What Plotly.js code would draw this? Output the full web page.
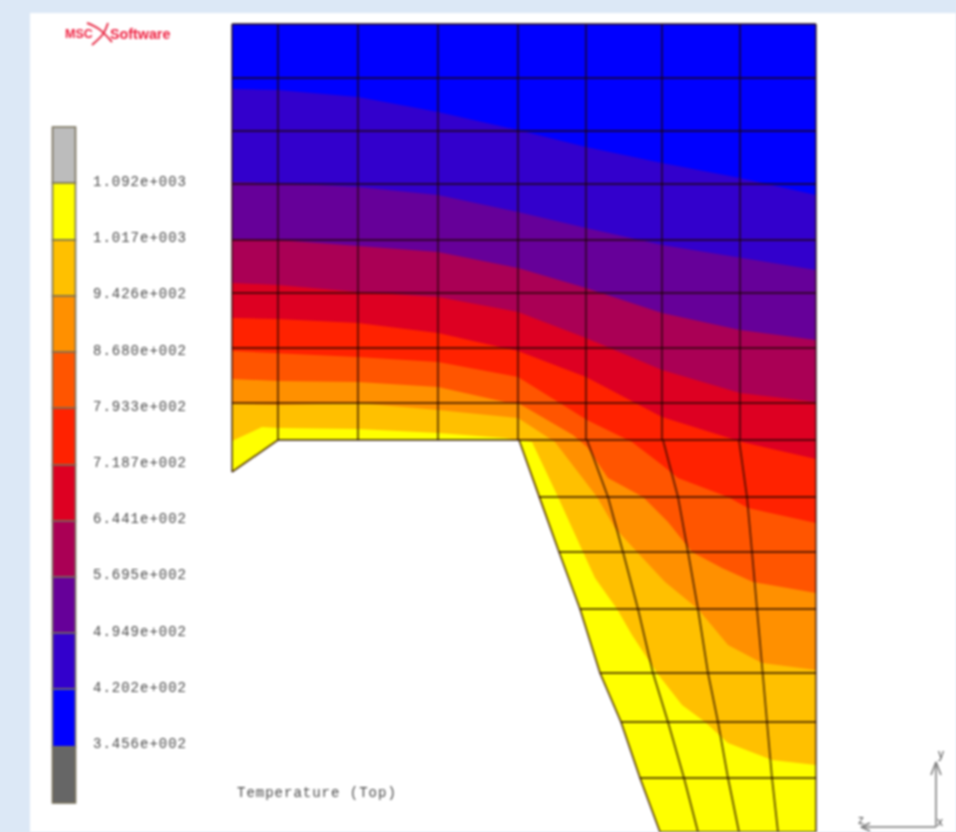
<!DOCTYPE html>
<html><head><meta charset="utf-8">
<script src="https://cdn.plot.ly/plotly-3.0.1.min.js"></script>
<style>html,body{margin:0;padding:0;background:#dce8f6;overflow:hidden}#chart{width:956px;height:832px;filter:blur(0.8px)}
#chart text[style*="Liberation Mono"]{letter-spacing:1px}</style>
</head><body><div id="chart"></div>
<script>
// Legend
const legendLabels=["1.092e+003","1.017e+003","9.426e+002","8.680e+002","7.933e+002","7.187e+002","6.441e+002","5.695e+002","4.949e+002","4.202e+002","3.456e+002"];
const legendEdges=[127,183,240,296,352,408,465,521,577,633,689,747,803];
const legendColors=["#bcbcbc","#ffff00","#ffc000","#ff9000","#ff5500","#ff2200","#dd0022","#aa0055","#660099","#3300cc","#0000ff","#666666"];
// Mesh (picture units)
const meshTopX=[232,278,358,438,518,586,662,740,816];
const meshTopY=[24,78,131,184,240,293,348,403,440];
const meshLowY=[440,497,552,609,673,722,778,832];
const slantX=[519,539,559,580,600,621,640,660];
const lower1X=[587,608,623,638,653,668,684,698];
const lower2X=[663,678,688,698,708,718,728,739];
const lower3X=[739,747,752,757,762,767,772,778];
const rightX=[816,816,816,816,816,816,816,816];
// Isotherm lines, cold to hot
const iso1X=[232,278,358,438,518,586,662,740,816];
const iso1Y=[89,90,97,112,130,147,163,178,195];
const iso2X=[232,278,358,438,518,586,662,740,816];
const iso2Y=[182,183,187,195,212,228,245,258,270];
const iso3X=[232,278,358,438,518,586,662,740,816];
const iso3Y=[239,240,246,252,268,288,313,330,340];
const iso4X=[232,278,358,438,518,586,662,740,816];
const iso4Y=[283,285,292,297,312,338,370,393,402];
const iso5X=[232,278,358,438,518,586,662,742,816];
const iso5Y=[318,319,323,333,351,377,417,442,459];
const iso6X=[232,278,358,438,518,587,632,662,678,728,748,816];
const iso6Y=[351,353,357,362,377,420,442,465,478,497,508,523];
const iso7X=[232,278,358,438,505,518,573,587,608,643,668,692,722,753,816];
const iso7Y=[379,381,382,387,402,403,435,447,478,497,522,552,568,582,593];
const iso8X=[232,278,358,438,518,555,597,615,637,665,698,728,762,816];
const iso8Y=[404,405,403,410,418,442,497,528,552,582,609,645,663,670];
const iso9X=[232,262,278,358,438,505,532,558,583,595,617,632,657,682,705,728,772,816];
const iso9Y=[441,427,428,429,433,438,442,497,552,578,609,635,673,705,722,743,760,765];
const bandColors=["#0000ff","#3300cc","#660099","#aa0055","#dd0022","#ff2200","#ff5500","#ff9000","#ffc000","#ffff00"];
const isoX=[iso1X,iso2X,iso3X,iso4X,iso5X,iso6X,iso7X,iso8X,iso9X];
const isoY=[iso1Y,iso2Y,iso3Y,iso4Y,iso5Y,iso6Y,iso7Y,iso8Y,iso9Y];
// Outline pieces
const flangeX=[278,232];
const flangeY=[440,472];

const slantUpX=slantX.slice().reverse(), slantUpY=meshLowY.slice().reverse();
const traces=[];
function band(xs,ys,color){
  traces.push({type:'scatter',mode:'lines',x:xs,y:ys,fill:'toself',fillcolor:color,line:{width:0,color:color},hoverinfo:'skip',showlegend:false});
}
// whole part first, then each hotter region on top
const lowerEdgeX=[816,816].concat(slantUpX,[278],flangeX.slice(1));
const lowerEdgeY=[440,832].concat(slantUpY,[440],flangeY.slice(1));
band([232,816].concat(lowerEdgeX,[232]),[24,24].concat(lowerEdgeY,[24]),bandColors[0]);
isoX.forEach((xs,i)=>{
  band(xs.concat(lowerEdgeX.slice(1),[xs[0]]),isoY[i].concat(lowerEdgeY.slice(1),[isoY[i][0]]),bandColors[i+1]);
});
// mesh lines
const meshLine={color:'rgba(30,5,0,0.68)',width:1.8};
function mesh(xs,ys){traces.push({type:'scatter',mode:'lines',x:xs,y:ys,line:meshLine,hoverinfo:'skip',showlegend:false});}
meshTopY.forEach((y,i)=>mesh([i===8?278:232,816],[y,y]));
meshLowY.forEach((y,i)=>{if(i>0)mesh([slantX[i],rightX[i]],[y,y]);});
mesh([232,232],[24,472]);
mesh(flangeX,flangeY);
meshTopX.slice(1,8).forEach(x=>mesh([x,x],[24,440]));
mesh([816,816],[24,832]);
mesh(slantX,meshLowY);mesh(lower1X,meshLowY);mesh(lower2X,meshLowY);mesh(lower3X,meshLowY);
// legend bar
traces.push({type:'bar',x:legendColors.map(()=>64),base:legendEdges.slice(0,-1),y:legendEdges.slice(1).map((e,i)=>e-legendEdges[i]),width:23,
  marker:{color:legendColors,line:{color:'#77705a',width:1.6}},hoverinfo:'skip',showlegend:false});
// legend labels: each sits just above its band edge
traces.push({type:'scatter',mode:'text',x:legendLabels.map(()=>93),y:[182,238,294,351,407,463,519,575,632,688,744],text:legendLabels,textposition:'middle right',
  textfont:{family:'"Liberation Mono",monospace',size:14,color:'#4a4a4a'},hoverinfo:'skip',showlegend:false});
traces.push({type:'scatter',mode:'text',x:[237],y:[793],text:['Temperature (Top)'],textposition:'middle right',
  textfont:{family:'"Liberation Mono",monospace',size:14,color:'#4a4a4a'},hoverinfo:'skip',showlegend:false});
// logo
traces.push({type:'scatter',mode:'text',x:[65],y:[35],text:['<b>MSC</b>'],textposition:'middle right',
  textfont:{family:'"Liberation Sans",Arial,sans-serif',size:12.5,color:'#ee2040'},hoverinfo:'skip',showlegend:false});
traces.push({type:'scatter',mode:'text',x:[110],y:[35],text:['<b>Software</b>'],textposition:'middle right',
  textfont:{family:'"Liberation Sans",Arial,sans-serif',size:14.3,color:'#ee2040'},hoverinfo:'skip',showlegend:false});
const swooshX=[87,99,112,null,108,103,92];
const swooshY=[23,29,42,null,23,34,45];
traces.push({type:'scatter',mode:'lines',x:swooshX,y:swooshY,line:{color:'#e8304a',width:2,shape:'spline'},connectgaps:false,hoverinfo:'skip',showlegend:false});
// triad
const triadX=[936,936,null,936,861,null,931,936,941,null,870,861,870];
const triadY=[827,762,null,827,827,null,775,762,775,null,823,827,831];
traces.push({type:'scatter',mode:'lines',x:triadX,y:triadY,line:{color:'#777',width:1.5},connectgaps:false,hoverinfo:'skip',showlegend:false});
traces.push({type:'scatter',mode:'text',x:[941,861,940],y:[755,821,823],text:['y','z','x'],textposition:'middle center',
  textfont:{family:'"Liberation Sans",sans-serif',size:12,color:'#555'},hoverinfo:'skip',showlegend:false});

const hidden={visible:false,fixedrange:true};
Plotly.newPlot('chart',traces,{
  width:956,height:832,margin:{l:30,r:0,t:13,b:0,pad:0},
  paper_bgcolor:'#dce8f6',plot_bgcolor:'#ffffff',showlegend:false,
  xaxis:Object.assign({range:[30,956]},hidden),
  yaxis:Object.assign({range:[832,13]},hidden),
  barmode:'overlay',
  font:{family:'"Liberation Mono",monospace'}
},{displayModeBar:false,staticPlot:true});
</script></body></html>
